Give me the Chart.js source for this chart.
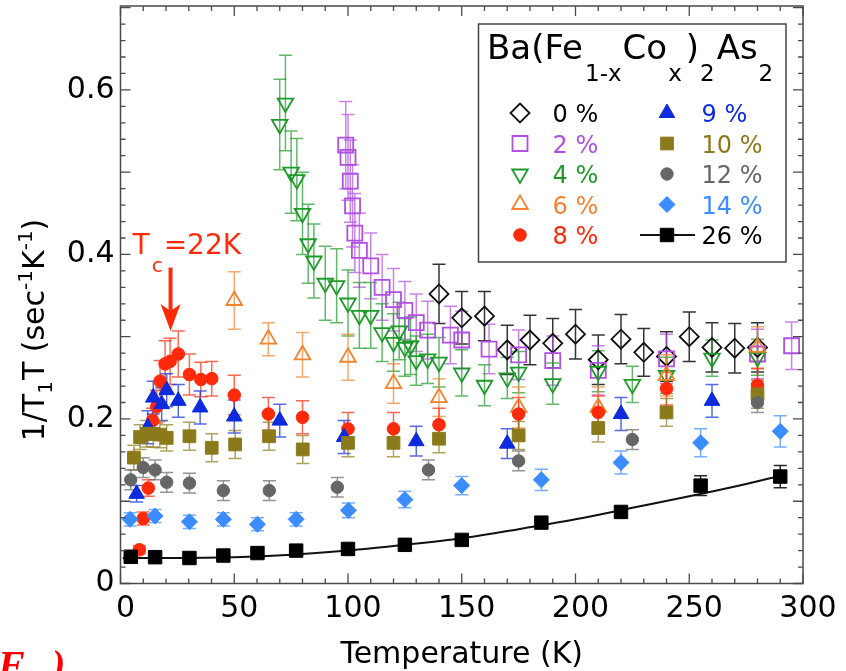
<!DOCTYPE html>
<html><head><meta charset="utf-8">
<script src="https://cdn.jsdelivr.net/npm/chart.js@4.4.0/dist/chart.umd.min.js"></script>
<style>html,body{margin:0;padding:0;background:#fff;}#wrap{position:relative;width:846px;height:671px;}</style>
</head><body><div id="wrap"><canvas id="c" width="846" height="671"></canvas></div>
<script>
// ---------------- DATA ----------------
// 0 %
const T0 = [140,150,160,170,180,190,200,210,220,230,240,250,260,270,280];
const V0 = [0.352,0.323,0.325,0.284,0.296,0.292,0.303,0.272,0.297,0.281,0.276,0.300,0.287,0.286,0.287];
const E0 = [0.036,0.032,0.030,0.030,0.030,0.030,0.030,0.030,0.030,0.029,0.030,0.030,0.030,0.030,0.030];
// 2 %
const T2 = [99,100,101,102,103,105,110,115,120,125,130,135,145,150,162,175,190,210,240,280,295];
const V2 = [0.533,0.518,0.489,0.459,0.426,0.405,0.386,0.360,0.345,0.332,0.317,0.308,0.302,0.296,0.285,0.278,0.271,0.259,0.273,0.279,0.289];
const E2 = [0.053,0.052,0.050,0.050,0.048,0.045,0.040,0.040,0.038,0.035,0.035,0.035,0.035,0.035,0.030,0.030,0.030,0.030,0.030,0.030,0.029];
// 4 %
const T4 = [70,72.5,75,77.5,80,82.5,85,90,95,100,105,110,115,120,122.5,125,127.5,130,135,140,150,160,170,175,190,210,225,240,260,280];
const V4 = [0.558,0.584,0.500,0.491,0.450,0.413,0.392,0.365,0.362,0.341,0.326,0.326,0.305,0.293,0.307,0.287,0.289,0.271,0.273,0.269,0.256,0.241,0.250,0.257,0.243,0.258,0.242,0.253,0.274,0.275];
const E4 = [0.055,0.058,0.050,0.050,0.050,0.048,0.045,0.045,0.045,0.040,0.040,0.040,0.035,0.035,0.035,0.035,0.035,0.030,0.030,0.030,0.028,0.025,0.025,0.025,0.025,0.025,0.022,0.022,0.022,0.022];
// 6 %
const T6 = [50,65,80,100,120,140,175,210,240,280];
const V6 = [0.344,0.297,0.278,0.275,0.243,0.226,0.214,0.214,0.253,0.287];
const E6 = [0.035,0.020,0.027,0.028,0.024,0.023,0.025,0.025,0.025,0.025];
// 8 %
const T8 = [8.3,10,12.2,14.1,15.9,17.4,19.6,21.8,25.4,30.3,35.3,40.1,50,65,80,100,120,140,175,210,240,280];
const V8 = [0.041,0.079,0.116,0.198,0.215,0.246,0.267,0.270,0.279,0.254,0.248,0.249,0.229,0.206,0.202,0.188,0.188,0.193,0.206,0.208,0.237,0.241];
const E8 = [0.005,0.008,0.010,0.015,0.020,0.025,0.028,0.028,0.028,0.025,0.021,0.021,0.024,0.020,0.020,0.020,0.020,0.020,0.020,0.020,0.020,0.020];
// 9 %
const T9 = [7.1,12,14.4,18.1,20.3,25.4,35,50,70,98.3,130,170,220,260];
const V9 = [0.109,0.190,0.226,0.218,0.235,0.222,0.214,0.203,0.198,0.178,0.173,0.170,0.206,0.222];
const E9 = [0.010,0.020,0.020,0.020,0.020,0.020,0.020,0.020,0.020,0.020,0.018,0.018,0.020,0.020];
// 10 %
const T10 = [5.9,8.6,11.5,14.4,17.3,20.3,30.3,40.1,50.4,65.3,80.1,100,120,140,175,210,240,280];
const V10 = [0.153,0.178,0.182,0.182,0.181,0.177,0.179,0.165,0.169,0.179,0.163,0.171,0.171,0.176,0.180,0.189,0.208,0.230];
const E10 = [0.015,0.015,0.016,0.016,0.016,0.016,0.017,0.017,0.017,0.017,0.017,0.017,0.017,0.017,0.017,0.017,0.017,0.017];
// 12 %
const T12 = [4.5,10,15.2,20.3,30.3,45.2,65.4,95.3,135.4,175,225,280];
const V12 = [0.126,0.141,0.138,0.123,0.122,0.113,0.113,0.117,0.138,0.149,0.175,0.220];
const E12 = [0.012,0.012,0.012,0.012,0.012,0.012,0.012,0.012,0.012,0.012,0.012,0.012];
// 14 %
const T14 = [4.2,15.2,30.3,45.2,60.2,77.2,100.2,125,150,185,220,255,290];
const V14 = [0.078,0.082,0.075,0.078,0.072,0.078,0.089,0.102,0.119,0.126,0.147,0.171,0.185];
const E14 = [0.008,0.008,0.008,0.008,0.008,0.008,0.009,0.010,0.011,0.013,0.014,0.017,0.019];
// 26 %
const T26 = [4.5,15.2,30.3,45.2,60.2,77.2,100,125,150,185,220,255,290];
const V26 = [0.0325,0.032,0.031,0.034,0.037,0.040,0.042,0.047,0.053,0.074,0.087,0.119,0.130];
const E26 = [0.003,0.003,0.003,0.003,0.004,0.004,0.004,0.004,0.004,0.004,0.005,0.012,0.0135];
// fit curve through 26 %
const fitT = [1,25,50,75,100,125,150,175,200,225,250,275,290];
const fitV = [0.031,0.031,0.032,0.035,0.040,0.047,0.055,0.066,0.078,0.092,0.106,0.121,0.131];
// axis tick labels
const xTickLabels = ['0','50','100','150','200','250','300'];
const yTickLabels = ['0','0.2','0.4','0.6'];
const legendLabels = ['0 %','2 %','4 %','6 %','8 %','9 %','10 %','12 %','14 %','26 %'];

// ---------------- STYLES ----------------
const series = [
  {T:T0,  V:V0,  E:E0,  color:'#111111', style:'rectRot',  r:9.5, rot:0,   open:true},
  {T:T2,  V:V2,  E:E2,  color:'#b04fe0', style:'rect',     r:10.6,rot:0,   open:true},
  {T:T4,  V:V4,  E:E4,  color:'#1f9a2a', style:'triangle', r:9,   rot:180, open:true},
  {T:T6,  V:V6,  E:E6,  color:'#f5822e', style:'triangle', r:9,   rot:0,   open:true},
  {T:T8,  V:V8,  E:E8,  color:'#ff2a0a', style:'circle',   r:6.3, rot:0,   open:false},
  {T:T9,  V:V9,  E:E9,  color:'#0b2bdc', style:'triangle', r:9,   rot:0,   open:false},
  {T:T10, V:V10, E:E10, color:'#8b7a1b', style:'rect',     r:9,   rot:0,   open:false},
  {T:T12, V:V12, E:E12, color:'#666666', style:'circle',   r:6.2, rot:0,   open:false},
  {T:T14, V:V14, E:E14, color:'#3a8cff', style:'rectRot',  r:8,   rot:0,   open:false},
  {T:T26, V:V26, E:E26, color:'#000000', style:'rect',     r:9.5, rot:0,   open:false}
];
const textColors = ['#000000','#b04fe0','#1f9a2a','#f5822e','#ff2a0a','#0b2bdc','#8b7a1b','#666666','#3a8cff','#000000'];
const FONT = '"DejaVu Sans", Verdana, sans-serif';
const FRAME = '#4a4a4a';

function hexA(h,a){const n=parseInt(h.slice(1),16);return `rgba(${n>>16&255},${n>>8&255},${n&255},${a})`;}

const datasets = series.map((s,k)=>({
  label: legendLabels[k],
  data: s.T.map((t,i)=>({x:t,y:s.V[i]})),
  errors: s.E,
  errColor: hexA(s.color, k===0||k===9?0.85:0.7),
  pointStyle: s.style, pointRadius: s.r, pointHoverRadius: s.r, pointRotation: s.rot,
  backgroundColor: s.open ? 'rgba(0,0,0,0)' : s.color,
  borderColor: s.color, borderWidth: s.open ? 1.8 : 1,
  showLine: false, order: k===9 ? 0 : 10-k
}));
datasets.push({label:'fit', data: fitT.map((t,i)=>({x:t,y:fitV[i]})), showLine:true, pointRadius:0,
  borderColor:'#111', borderWidth:2, cubicInterpolationMode:'monotone', fill:false, order:20});

function drawMarker(ctx, style, x, y, r, rot, fill, stroke, lw){
  ctx.save(); ctx.beginPath();
  if(style==='circle'){ ctx.arc(x,y,r,0,Math.PI*2); }
  else if(style==='rect'){ const h=r*Math.SQRT1_2; ctx.rect(x-h,y-h,2*h,2*h); }
  else if(style==='rectRot'){ ctx.moveTo(x,y-r); ctx.lineTo(x+r,y); ctx.lineTo(x,y+r); ctx.lineTo(x-r,y); ctx.closePath(); }
  else if(style==='triangle'){ let a=rot*Math.PI/180; for(let i=0;i<3;i++){const px=x+Math.sin(a)*r, py=y-Math.cos(a)*r; i?ctx.lineTo(px,py):ctx.moveTo(px,py); a+=2*Math.PI/3;} ctx.closePath(); }
  if(fill){ctx.fillStyle=fill; ctx.fill();}
  ctx.lineWidth=lw; ctx.strokeStyle=stroke; ctx.stroke(); ctx.restore();
}
function drawRuns(ctx, runs, x, y){ // runs: [text,size,dy,gapAfter]
  let cx=x;
  runs.forEach(([t,s,dy,g])=>{ ctx.font=`${s}px ${FONT}`; ctx.fillText(t,cx,y+dy); cx+=ctx.measureText(t).width+(g||0); });
  return cx-x;
}
function runsWidth(ctx, runs){ let w=0; runs.forEach(([t,s,dy,g])=>{ctx.font=`${s}px ${FONT}`; w+=ctx.measureText(t).width+(g||0);}); return w; }

const errPlugin = {
  id:'errbars',
  beforeDatasetsDraw(chart){
    const {ctx, chartArea:a, scales:{x,y}} = chart;
    ctx.save(); ctx.beginPath(); ctx.rect(a.left,a.top,a.right-a.left,a.bottom-a.top); ctx.clip();
    chart.data.datasets.forEach(ds=>{
      if(!ds.errors) return;
      ctx.strokeStyle=ds.errColor; ctx.lineWidth=1.5;
      ds.data.forEach((p,j)=>{
        const e=ds.errors[j], px=x.getPixelForValue(p.x);
        const y1=y.getPixelForValue(p.y-e), y2=y.getPixelForValue(p.y+e), c=6.5;
        ctx.beginPath(); ctx.moveTo(px,y1); ctx.lineTo(px,y2);
        ctx.moveTo(px-c,y1); ctx.lineTo(px+c,y1); ctx.moveTo(px-c,y2); ctx.lineTo(px+c,y2); ctx.stroke();
      });
    });
    ctx.restore();
  }
};

const decoPlugin = {
  id:'deco',
  afterDraw(chart){
    const {ctx, chartArea:a, scales:{x,y}} = chart;
    ctx.save();
    // frame
    ctx.strokeStyle=FRAME; ctx.lineWidth=1.5;
    ctx.strokeRect(a.left,a.top,a.right-a.left,a.bottom-a.top);
    ctx.lineWidth=1.3; ctx.beginPath();
    for(let v=0; v<=300; v+=10){ const px=x.getPixelForValue(v); const L=(v%50===0)?10:5;
      ctx.moveTo(px,a.bottom); ctx.lineTo(px,a.bottom-L); ctx.moveTo(px,a.top); ctx.lineTo(px,a.top+L); }
    for(let k=0; k<=35; k++){ const v=k*0.02; const py=y.getPixelForValue(v); const L=(k%5===0)?10:5;
      ctx.moveTo(a.left,py); ctx.lineTo(a.left+L,py); ctx.moveTo(a.right,py); ctx.lineTo(a.right-L,py); }
    ctx.stroke();

    // axis titles
    ctx.fillStyle='#000'; ctx.textBaseline='alphabetic';
    ctx.font=`30px ${FONT}`; ctx.textAlign='center';
    ctx.fillText('Temperature (K)', (a.left+a.right)/2, 663);
    ctx.textAlign='left';
    const yRuns=[['1/T',30,0],['1',20,8,1],['T (sec',30,0],['-1',20,-12],['K',30,0],['-1',20,-12],[')',30,0]];
    ctx.save(); ctx.translate(44,330); ctx.rotate(-Math.PI/2);
    const yw=runsWidth(ctx,yRuns); drawRuns(ctx,yRuns,-yw/2,0); ctx.restore();

    // Tc annotation
    const ax=x.getPixelForValue(22), tip=y.getPixelForValue(0.307), top=y.getPixelForValue(0.384);
    ctx.fillStyle='#ff2a0a'; ctx.strokeStyle='#ff2a0a';
    drawRuns(ctx,[['T',28,0,2],['c',20,18,1],['=22K',28,0]], ax-38, 254);
    ctx.lineWidth=4; ctx.beginPath(); ctx.moveTo(ax,top); ctx.lineTo(ax,tip-15); ctx.stroke();
    ctx.beginPath(); ctx.moveTo(ax-10,tip-27); ctx.lineTo(ax,tip); ctx.lineTo(ax+10,tip-27); ctx.lineTo(ax,tip-20); ctx.closePath(); ctx.fill();

    // panel label (cut at bottom edge)
    ctx.font='bold italic 40px "Liberation Serif", "Times New Roman", serif';
    ctx.fillStyle='#ff0000'; ctx.fillText('F',-2,678); ctx.fillText(')',52,678);

    // legend
    const L={l:478.5,t:24,r:786,b:262};
    ctx.fillStyle='#fff'; ctx.fillRect(L.l,L.t,L.r-L.l,L.b-L.t);
    ctx.strokeStyle='#444'; ctx.lineWidth=1.5; ctx.strokeRect(L.l,L.t,L.r-L.l,L.b-L.t);
    ctx.fillStyle='#000';
    drawRuns(ctx,[['Ba(Fe',34,0,2],['1-x',23,22,1],['Co',34,0,1],['x',23,22,4],[')',34,0,1],['2',23,22,2],['As',34,0,1],['2',23,22]], 487, 59);
    for(let k=0;k<10;k++){
      const col=k<5?0:1, row=k%5, cy=113+row*30.5;
      const mx=col?667:520, tx=col?701.5:552.5, s=series[k];
      if(k===9){ ctx.strokeStyle='#111'; ctx.lineWidth=2; ctx.beginPath(); ctx.moveTo(640,cy); ctx.lineTo(695,cy); ctx.stroke(); }
      drawMarker(ctx, s.style, mx, cy, s.r, s.rot, s.open?null:s.color, s.color, s.open?1.8:1);
      ctx.fillStyle=textColors[k]; ctx.font=`24px ${FONT}`; ctx.fillText(legendLabels[k], tx, cy+9);
    }
    ctx.restore();
  }
};

new Chart(document.getElementById('c'), {
  type:'scatter',
  data:{datasets},
  options:{
    responsive:false, animation:false, devicePixelRatio:1,
    layout:{autoPadding:false, padding:{left:0,right:43,top:6,bottom:0}},
    plugins:{legend:{display:false}, tooltip:{enabled:false}},
    scales:{
      x:{type:'linear', min:0, max:300,
         grid:{display:false, drawTicks:false}, border:{display:false},
         ticks:{stepSize:50, autoSkip:false, maxRotation:0, padding:8, labelOffset:5, color:'#000',
                font:{family:FONT, size:30}, includeBounds:false,
                callback:(v)=>{ const i=Math.round(v/50); return Math.abs(v-i*50)<1e-6 ? xTickLabels[i] : ''; }},
         afterFit:(s)=>{ s.height=87.5; s.paddingLeft=0; s.paddingRight=0; }},
      y:{type:'linear', min:0, max:0.702,
         grid:{display:false, drawTicks:false}, border:{display:false},
         ticks:{stepSize:0.2, autoSkip:false, padding:6, color:'#000', font:{family:FONT, size:30}, includeBounds:false,
                callback:(v)=>{ const i=Math.round(v/0.2); return (Math.abs(v-i*0.2)<1e-6 && i<yTickLabels.length) ? yTickLabels[i] : ''; }},
         afterFit:(s)=>{ s.width=120.5; s.paddingTop=0; s.paddingBottom=0; }}
    }
  },
  plugins:[errPlugin, decoPlugin]
});
</script></body></html>
